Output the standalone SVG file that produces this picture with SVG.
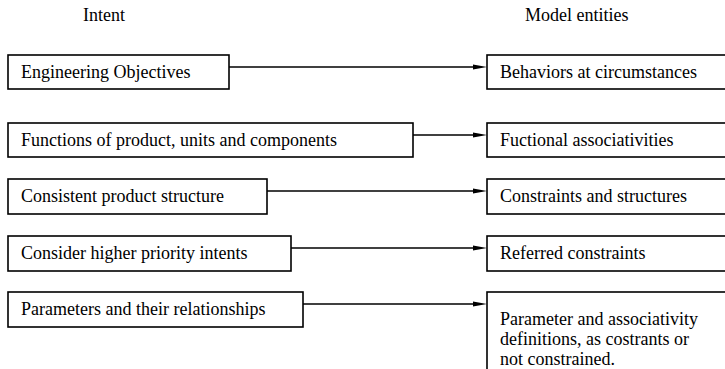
<svg xmlns="http://www.w3.org/2000/svg" width="725" height="369" viewBox="0 0 725 369">
<rect width="725" height="369" fill="#fff"/>
<g id="connectors" stroke="#000" stroke-width="1.5">
  <line x1="229" y1="67" x2="474" y2="67"/>
  <line x1="413" y1="135" x2="474" y2="135"/>
  <line x1="267" y1="191" x2="474" y2="191"/>
  <line x1="291" y1="248" x2="474" y2="248"/>
  <line x1="303" y1="304" x2="474" y2="304"/>
  <g stroke="none" fill="#000">
    <polygon points="473,64.5 487,67 473,69.5"/>
    <polygon points="473,132.5 487,135 473,137.5"/>
    <polygon points="473,188.5 487,191 473,193.5"/>
    <polygon points="473,245.5 487,248 473,250.5"/>
    <polygon points="473,301.5 487,304 473,306.5"/>
  </g>
</g>
<text x="83" y="21" font-family="Liberation Serif" font-size="18">Intent</text>
<text x="525" y="21" font-family="Liberation Serif" font-size="18">Model entities</text>
<g id="intent1"><rect x="8" y="55" width="221" height="34" fill="#fff" stroke="#000" stroke-width="1.6"/><text x="21" y="78" font-family="Liberation Serif" font-size="18">Engineering Objectives</text></g>
<g id="intent2"><rect x="8" y="123" width="405" height="34" fill="#fff" stroke="#000" stroke-width="1.6"/><text x="21" y="146" font-family="Liberation Serif" font-size="18">Functions of product, units and components</text></g>
<g id="intent3"><rect x="8" y="179" width="259" height="35" fill="#fff" stroke="#000" stroke-width="1.6"/><text x="21" y="202" font-family="Liberation Serif" font-size="18">Consistent product structure</text></g>
<g id="intent4"><rect x="8" y="236" width="283" height="35" fill="#fff" stroke="#000" stroke-width="1.6"/><text x="21" y="259" font-family="Liberation Serif" font-size="18">Consider higher priority intents</text></g>
<g id="intent5"><rect x="8" y="292" width="295" height="35" fill="#fff" stroke="#000" stroke-width="1.6"/><text x="21" y="315" font-family="Liberation Serif" font-size="18">Parameters and their relationships</text></g>
<g id="entity1"><rect x="487" y="55" width="260" height="34" fill="#fff" stroke="#000" stroke-width="1.6"/><text x="500" y="78" font-family="Liberation Serif" font-size="18">Behaviors at circumstances</text></g>
<g id="entity2"><rect x="487" y="123" width="260" height="34" fill="#fff" stroke="#000" stroke-width="1.6"/><text x="500" y="146" font-family="Liberation Serif" font-size="18">Fuctional associativities</text></g>
<g id="entity3"><rect x="487" y="179" width="260" height="35" fill="#fff" stroke="#000" stroke-width="1.6"/><text x="500" y="202" font-family="Liberation Serif" font-size="18">Constraints and structures</text></g>
<g id="entity4"><rect x="487" y="236" width="260" height="35" fill="#fff" stroke="#000" stroke-width="1.6"/><text x="500" y="259" font-family="Liberation Serif" font-size="18">Referred constraints</text></g>
<g id="entity5"><rect x="487" y="292" width="260" height="100" fill="#fff" stroke="#000" stroke-width="1.6"/>
  <text x="500" y="325" font-family="Liberation Serif" font-size="18">Parameter and associativity</text>
  <text x="500" y="345" font-family="Liberation Serif" font-size="18">definitions, as costrants or</text>
  <text x="500" y="365" font-family="Liberation Serif" font-size="18">not constrained.</text>
</g>
</svg>
